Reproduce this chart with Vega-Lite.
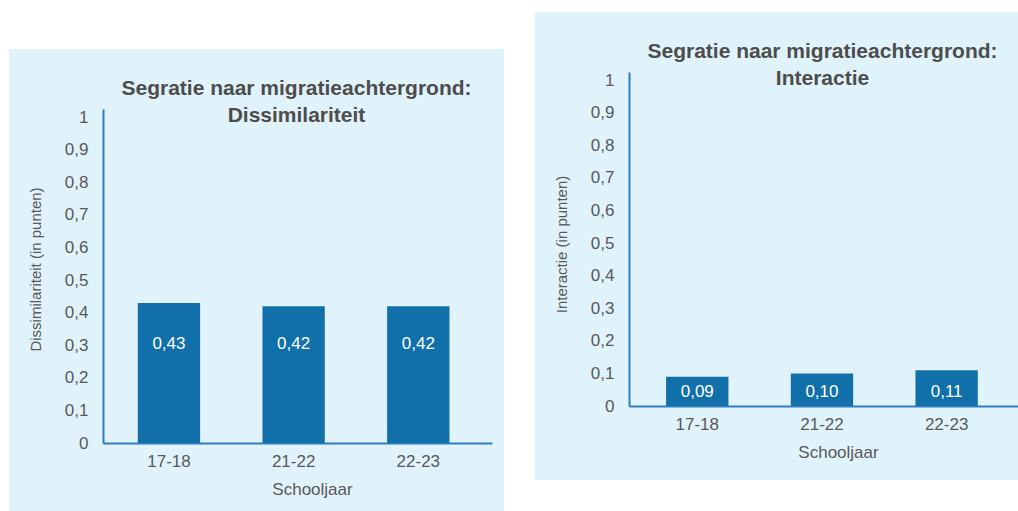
{
  "$schema": "https://vega.github.io/schema/vega-lite/v6.json",
  "background": "white",
  "padding": {"left": 9, "top": 12, "right": 0, "bottom": 0},
  "spacing": 31,
  "config": {
    "view": {"stroke": null},
    "font": "Liberation Sans",
    "locale": {"number": {"decimal": ",", "thousands": ".", "grouping": [3], "currency": ["€", ""]}}
  },
  "hconcat": [
    {
      "vconcat": [
        {
          "width": 495,
          "height": 37,
          "data": {"values": []},
          "mark": "rule",
          "encoding": {}
        },
        {
          "width": 495,
          "height": 462,
          "view": {"fill": "#e0f3fa", "stroke": null},
          "title": {
            "text": ["Segratie naar migratieachtergrond:", "Dissimilariteit"],
            "fontSize": 21,
            "fontWeight": "bold",
            "color": "#4d4d4d",
            "lineHeight": 27,
            "anchor": "middle",
            "frame": "group",
            "offset": -77,
            "dx": 40
          },
          "data": {
            "values": [
              {"jaar": "17-18", "waarde": 0.43},
              {"jaar": "21-22", "waarde": 0.42},
              {"jaar": "22-23", "waarde": 0.42}
            ]
          },
          "encoding": {
            "x": {
              "field": "jaar",
              "type": "nominal",
              "sort": null,
              "scale": {"range": [94, 483], "paddingInner": 0.5, "paddingOuter": 0.31, "align": 0.45},
              "axis": {
                "title": "Schooljaar",
                "offset": -68,
                "labelAngle": 0,
                "ticks": false,
                "tickSize": 0,
                "labelPadding": 10,
                "labelFontSize": 17,
                "labelColor": "#595959",
                "domainColor": "#2f7cc0",
                "domainWidth": 2,
                "titleFontSize": 17,
                "titleFontWeight": "normal",
                "titleColor": "#595959",
                "titleX": 303,
                "titleY": 38
              }
            }
          },
          "layer": [
            {
              "mark": {"type": "bar", "color": "#1170aa"},
              "encoding": {
                "y": {
                  "field": "waarde",
                  "type": "quantitative",
                  "scale": {"domain": [0, 1.025], "range": [394, 60], "nice": false, "zero": true},
                  "axis": {
                    "title": "Dissimilariteit (in punten)",
                    "offset": -94,
                    "values": [0, 0.1, 0.2, 0.3, 0.4, 0.5, 0.6, 0.7, 0.8, 0.9, 1],
                    "format": ".1~f",
                    "grid": false,
                    "ticks": false,
                    "tickSize": 0,
                    "labelPadding": 15,
                    "labelOverlap": false,
                    "labelFontSize": 17,
                    "labelColor": "#595959",
                    "domainColor": "#2f7cc0",
                    "domainWidth": 2,
                    "titleFontSize": 15,
                    "titleFontWeight": "normal",
                    "titleColor": "#595959",
                    "titleX": -60,
                    "titleY": 220
                  }
                }
              }
            },
            {
              "mark": {"type": "text", "color": "white", "fontSize": 17, "baseline": "middle", "dy": -99},
              "encoding": {
                "y": {"datum": 0, "type": "quantitative"},
                "text": {"field": "waarde", "type": "quantitative", "format": ".2f"}
              }
            }
          ]
        }
      ],
      "spacing": 0
    },
    {
      "width": 483,
      "height": 468,
      "view": {"fill": "#e0f3fa", "stroke": null},
      "title": {
        "text": ["Segratie naar migratieachtergrond:", "Interactie"],
        "fontSize": 21,
        "fontWeight": "bold",
        "color": "#4d4d4d",
        "lineHeight": 27,
        "anchor": "middle",
        "frame": "group",
        "offset": -77,
        "dx": 46
      },
      "data": {
        "values": [
          {"jaar": "17-18", "waarde": 0.09},
          {"jaar": "21-22", "waarde": 0.10},
          {"jaar": "22-23", "waarde": 0.11}
        ]
      },
      "encoding": {
        "x": {
          "field": "jaar",
          "type": "nominal",
          "sort": null,
          "scale": {"range": [94, 483], "paddingInner": 0.5, "paddingOuter": 0.31, "align": 0.48},
          "axis": {
            "title": "Schooljaar",
            "offset": -74,
            "labelAngle": 0,
            "ticks": false,
            "tickSize": 0,
            "labelPadding": 10,
            "labelFontSize": 17,
            "labelColor": "#595959",
            "domainColor": "#2f7cc0",
            "domainWidth": 2,
            "titleFontSize": 17,
            "titleFontWeight": "normal",
            "titleColor": "#595959",
            "titleX": 303,
            "titleY": 38
          }
        }
      },
      "layer": [
        {
          "mark": {"type": "bar", "color": "#1170aa"},
          "encoding": {
            "y": {
              "field": "waarde",
              "type": "quantitative",
              "scale": {"domain": [0, 1.025], "range": [394, 60], "nice": false, "zero": true},
              "axis": {
                "title": "Interactie (in punten)",
                "offset": -94,
                "values": [0, 0.1, 0.2, 0.3, 0.4, 0.5, 0.6, 0.7, 0.8, 0.9, 1],
                "format": ".1~f",
                "grid": false,
                "ticks": false,
                "tickSize": 0,
                "labelPadding": 15,
                "labelOverlap": false,
                "labelFontSize": 17,
                "labelColor": "#595959",
                "domainColor": "#2f7cc0",
                "domainWidth": 2,
                "titleFontSize": 15,
                "titleFontWeight": "normal",
                "titleColor": "#595959",
                "titleX": -60,
                "titleY": 232
              }
            }
          }
        },
        {
          "mark": {"type": "text", "color": "white", "fontSize": 17, "baseline": "middle", "dy": -14},
          "encoding": {
            "y": {"datum": 0, "type": "quantitative"},
            "text": {"field": "waarde", "type": "quantitative", "format": ".2f"}
          }
        }
      ]
    }
  ]
}
